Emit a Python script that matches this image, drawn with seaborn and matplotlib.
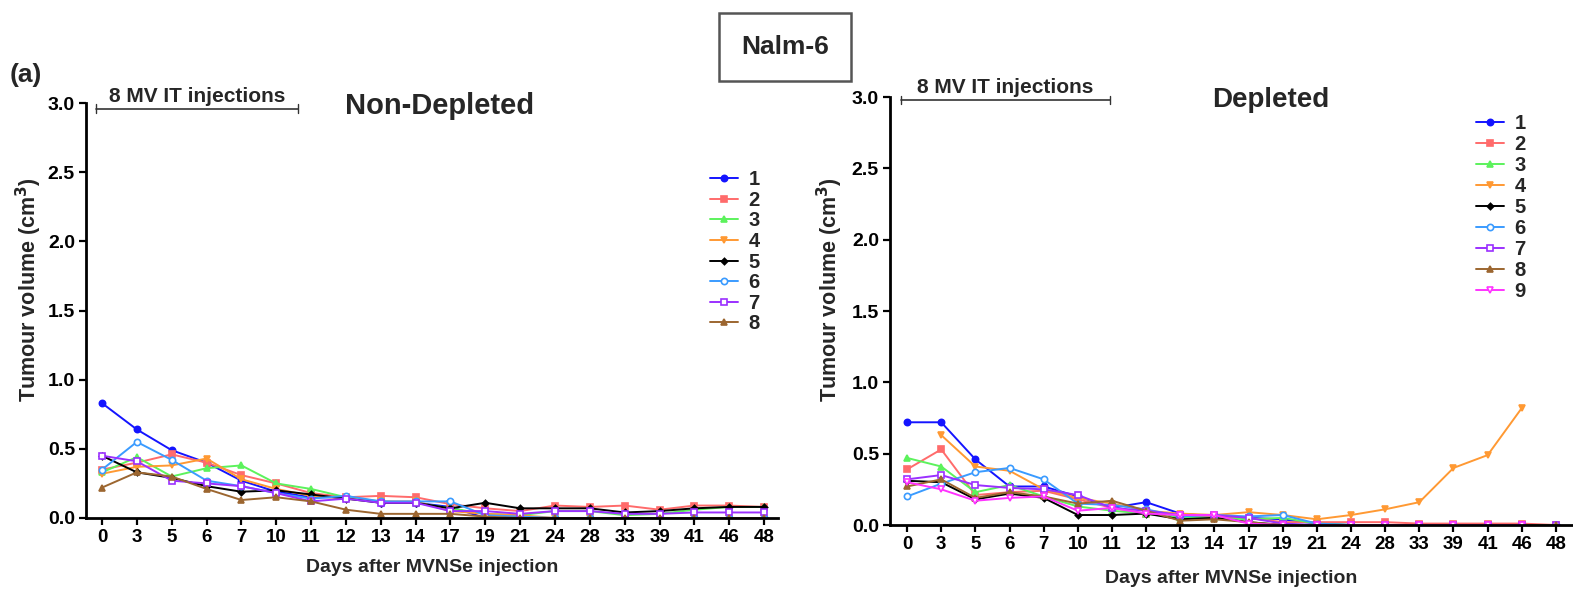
import numpy as np
import pandas as pd
import matplotlib
matplotlib.use("Agg")
import matplotlib.pyplot as plt
import seaborn as sns

days = ["0", "3", "5", "6", "7", "10", "11", "12", "13", "14",
        "17", "19", "21", "24", "28", "33", "39", "41", "46", "48"]

nan = np.nan

# Non-depleted group, tumour volume (cm^3) per mouse
nd_1 = [0.83, 0.64, 0.49, 0.40, 0.27, 0.19, 0.15, 0.15, 0.11, 0.11, 0.08, 0.00, 0.00, 0.00, 0.00, 0.00, 0.00, 0.00, 0.00, 0.00]
nd_2 = [0.35, 0.40, 0.46, 0.40, 0.31, 0.25, 0.18, 0.15, 0.16, 0.15, 0.10, 0.07, 0.05, 0.09, 0.08, 0.09, 0.06, 0.09, 0.09, 0.08]
nd_3 = [0.33, 0.44, 0.30, 0.36, 0.38, 0.25, 0.21, 0.15, 0.12, 0.11, 0.07, 0.03, 0.02, 0.05, 0.05, 0.02, 0.03, 0.06, 0.08, 0.08]
nd_4 = [0.32, 0.37, 0.38, 0.43, 0.28, 0.21, 0.16, 0.14, 0.12, 0.12, 0.05, 0.03, 0.02, 0.00, 0.00, 0.00, 0.00, 0.00, 0.00, 0.00]
nd_5 = [0.45, 0.33, 0.29, 0.23, 0.19, 0.20, 0.17, 0.14, 0.11, 0.11, 0.07, 0.11, 0.07, 0.07, 0.07, 0.04, 0.05, 0.07, 0.08, 0.08]
nd_6 = [0.35, 0.55, 0.42, 0.27, 0.23, 0.18, 0.14, 0.16, 0.12, 0.12, 0.12, 0.02, 0.01, 0.00, 0.00, 0.00, 0.00, 0.00, 0.00, 0.00]
nd_7 = [0.45, 0.41, 0.27, 0.25, 0.23, 0.18, 0.12, 0.14, 0.11, 0.11, 0.05, 0.05, 0.03, 0.05, 0.05, 0.03, 0.03, 0.04, 0.04, 0.04]
nd_8 = [0.22, 0.33, 0.30, 0.21, 0.13, 0.15, 0.12, 0.06, 0.03, 0.03, 0.03, 0.01, 0.00, 0.00, 0.00, 0.00, 0.00, 0.00, 0.00, 0.00]

# Depleted group, tumour volume (cm^3) per mouse
d_1 = [0.72, 0.72, 0.46, 0.27, 0.27, 0.20, 0.12, 0.16, 0.08, 0.06, 0.05, 0.04, 0.01, 0.00, 0.00, 0.00, 0.00, 0.00, 0.00, 0.00]
d_2 = [0.39, 0.53, 0.21, 0.23, 0.24, 0.18, 0.12, 0.08, 0.06, 0.06, 0.05, 0.02, 0.02, 0.02, 0.02, 0.01, 0.01, 0.01, 0.01, 0.00]
d_3 = [0.47, 0.41, 0.23, 0.28, 0.20, 0.13, 0.10, 0.08, 0.05, 0.05, 0.04, 0.05, 0.01, 0.00, 0.00, 0.00, 0.00, 0.00, 0.00, 0.00]
d_4 = [nan, 0.63, 0.41, 0.38, 0.25, 0.19, 0.15, 0.10, 0.08, 0.07, 0.09, 0.07, 0.04, 0.07, 0.11, 0.16, 0.40, 0.49, 0.82, nan]
d_5 = [0.31, 0.30, 0.18, 0.22, 0.19, 0.07, 0.07, 0.08, 0.04, 0.05, 0.02, 0.00, 0.00, 0.00, 0.00, 0.00, 0.00, 0.00, 0.00, 0.00]
d_6 = [0.20, 0.29, 0.37, 0.40, 0.32, 0.15, 0.14, 0.11, 0.06, 0.07, 0.06, 0.07, 0.01, 0.00, 0.00, 0.00, 0.00, 0.00, 0.00, 0.00]
d_7 = [0.32, 0.35, 0.28, 0.26, 0.25, 0.21, 0.12, 0.10, 0.07, 0.07, 0.05, 0.01, 0.00, 0.00, 0.00, 0.00, 0.00, 0.00, 0.00, 0.00]
d_8 = [0.27, 0.32, 0.19, 0.23, 0.20, 0.15, 0.17, 0.10, 0.03, 0.04, 0.02, 0.00, 0.00, 0.00, 0.00, 0.00, 0.00, 0.00, 0.00, 0.00]
d_9 = [0.30, 0.25, 0.17, 0.19, 0.20, 0.10, 0.12, 0.08, 0.07, 0.07, 0.01, 0.00, 0.00, 0.00, 0.00, 0.00, 0.00, 0.00, 0.00, nan]

non_depleted = [nd_1, nd_2, nd_3, nd_4, nd_5, nd_6, nd_7, nd_8]
depleted = [d_1, d_2, d_3, d_4, d_5, d_6, d_7, d_8, d_9]

colors = ["#1414FF", "#FF6B6B", "#5CF25C", "#FF9933", "#000000",
          "#3A9BFF", "#9B30FF", "#9C6630", "#FF33FF"]
# (marker, filled)
markers = [("o", True), ("s", True), ("^", True), ("v", True), ("D", True),
           ("o", False), ("s", False), ("^", True), ("v", False)]

sns.set_style("ticks")
plt.rcParams["font.family"] = ["Liberation Sans", "DejaVu Sans"]
plt.rcParams["font.weight"] = "bold"

fig = plt.figure(figsize=(15.73, 5.90), dpi=100)
ax1 = fig.add_axes([86 / 1573, 1 - 518 / 590, (778 - 86) / 1573, (518 - 103) / 590])
ax2 = fig.add_axes([890 / 1573, 1 - 525 / 590, (1572 - 890) / 1573, (525 - 97) / 590])

xpos = np.arange(len(days))


def marker_kw(i):
    mk, filled = markers[i]
    return dict(marker=mk, markersize=4.5 if mk != "D" else 3.2,
                markerfacecolor=colors[i] if filled else "white",
                markeredgecolor=colors[i], markeredgewidth=1.2)


def draw_group(ax, group):
    handles = []
    for i, vals in enumerate(group):
        df = pd.DataFrame({"x": xpos, "y": vals}).dropna()
        sns.lineplot(data=df, x="x", y="y", ax=ax, color=colors[i],
                     linewidth=1.4, label=str(i + 1), legend=False, **marker_kw(i))
        h, = ax.plot([], [], color=colors[i], linewidth=1.4, **marker_kw(i))
        handles.append(h)
    return handles


def style_axes(ax, xl, xr, ylab_x):
    ax.set_xlim(xl, xr)
    ax.set_ylim(0, 3.0)
    ax.set_xticks(xpos)
    ax.set_xticklabels(days, fontsize=13.5, fontweight="bold")
    ax.set_yticks(np.arange(0, 3.01, 0.5))
    ax.set_yticklabels([f"{v:.1f}" for v in np.arange(0, 3.01, 0.5)],
                       fontsize=14, fontweight="bold")
    for s in ["top", "right"]:
        ax.spines[s].set_visible(False)
    for s in ["left", "bottom"]:
        ax.spines[s].set_linewidth(2.0)
        ax.spines[s].set_color("black")
    ax.tick_params(axis="both", direction="out", length=5, width=1.6, colors="black", pad=3)
    ax.set_ylabel("Tumour volume (cm$^\\mathbf{3}$)", fontsize=15.5, fontweight="bold")
    ax.yaxis.set_label_coords(ylab_x, 0.55)
    ax.set_xlabel("Days after MVNSe injection", fontsize=14, fontweight="bold", labelpad=2)


def bracket(ax, x0, x1, y):
    ax.plot([x0, x1], [y, y], color="#333333", linewidth=1.2, clip_on=False)
    for xx in (x0, x1):
        ax.plot([xx, xx], [y - 0.03, y + 0.03], color="#333333", linewidth=1.0, clip_on=False)
    ax.text((x0 + x1) / 2, y + 0.02, "8 MV IT injections", ha="center", va="bottom",
            fontsize=15, fontweight="bold", clip_on=False)


h1 = draw_group(ax1, non_depleted)
h2 = draw_group(ax2, depleted)
style_axes(ax1, -0.46, 19.4, -0.06)
style_axes(ax2, -0.5, 19.47, -0.066)
ax1.xaxis.labelpad = 9
ax2.xaxis.labelpad = 12

bracket(ax1, -0.17, 5.63, 2.96)
bracket(ax2, -0.17, 5.94, 2.98)

ax1.text(9.7, 2.98, "Non-Depleted", ha="center", va="center", fontsize=21, fontweight="bold")
ax2.text(10.65, 2.98, "Depleted", ha="center", va="center", fontsize=20, fontweight="bold")

leg1 = ax1.legend(h1, [str(i + 1) for i in range(8)], loc="upper left",
                  bbox_to_anchor=(692 / 1573, 1 - 152 / 590), bbox_transform=fig.transFigure,
                  frameon=False, handlelength=1.4, handletextpad=0.5, labelspacing=0.08,
                  prop={"size": 14.5, "weight": "bold"})
leg2 = ax2.legend(h2, [str(i + 1) for i in range(9)], loc="upper left",
                  bbox_to_anchor=(1458 / 1573, 1 - 96 / 590), bbox_transform=fig.transFigure,
                  frameon=False, handlelength=1.4, handletextpad=0.5, labelspacing=0.1,
                  prop={"size": 14.5, "weight": "bold"})

fig.text(10 / 1573, 1 - 75 / 590, "(a)", fontsize=19, fontweight="bold", va="center", ha="left")
fig.text(785 / 1573, 1 - 47 / 590, "Nalm-6", fontsize=19, fontweight="bold", ha="center", va="center",
         bbox=dict(boxstyle="square,pad=0.85", facecolor="white", edgecolor="#555555", linewidth=1.8))

fig.savefig("out.png", dpi=100)
